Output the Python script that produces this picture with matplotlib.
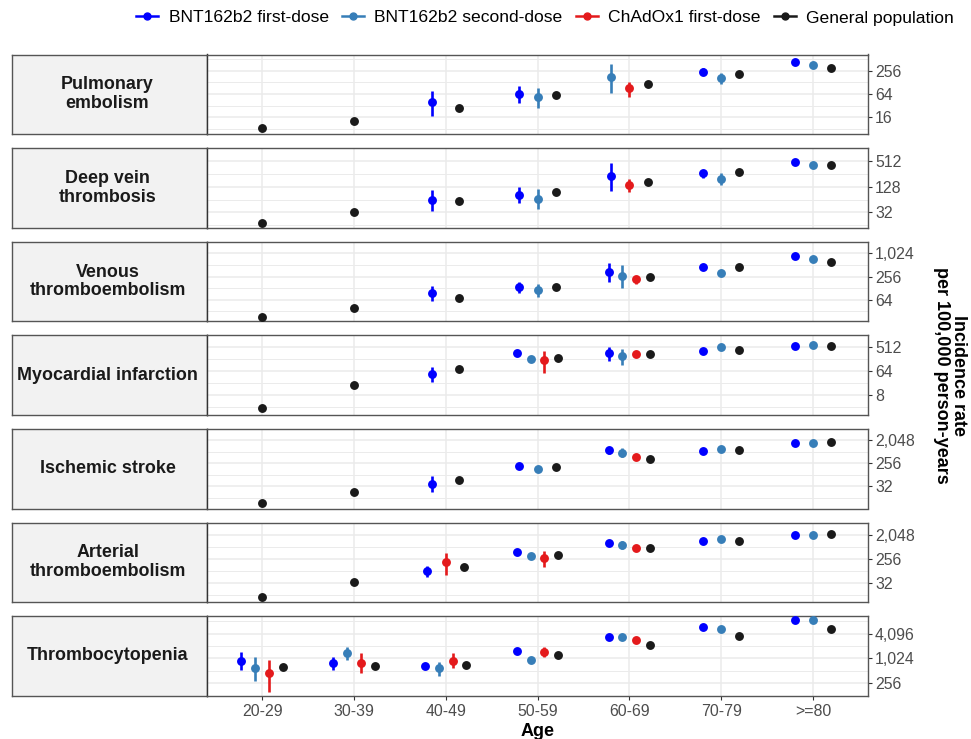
import numpy as np
import matplotlib.pyplot as plt
from matplotlib.lines import Line2D
from matplotlib.ticker import NullFormatter

plt.rcParams['font.family'] = ['Liberation Sans', 'DejaVu Sans']

ages = ["20-29", "30-39", "40-49", "50-59", "60-69", "70-79", ">=80"]
groups = ["BNT162b2 first-dose", "BNT162b2 second-dose", "ChAdOx1 first-dose", "General population"]
colors = ["#0000FF", "#377EB8", "#E41A1C", "#1A1A1A"]
outcomes = ["Pulmonary\nembolism", "Deep vein\nthrombosis", "Venous\nthromboembolism",
            "Myocardial infarction", "Ischemic stroke", "Arterial\nthromboembolism",
            "Thrombocytopenia"]
N = None

# incidence per 100,000 person-years, (lower, upper) CI where a bar is visible
# Pulmonary embolism
pe_b1 = [N, N, 39, 64, N, 241, 437]
pe_b1_ci = [N, N, (17, 75), (37, 105), N, (198, 294), N]
pe_b2 = [N, N, N, 54, 182, 165, 366]
pe_b2_ci = [N, N, N, (28, 91), (68, 388), (118, 231), N]
pe_ch = [N, N, N, N, 91, N, N]
pe_ch_ci = [N, N, N, N, (55, 135), N, N]
pe_gp = [8.5, 13.3, 28, 59, 120, 218, 301]

# Deep vein thrombosis
dvt_b1 = [N, N, 63, 83, 224, 265, 488]
dvt_b1_ci = [N, N, (35, 107), (52, 126), (101, 448), (200, 323), N]
dvt_b2 = [N, N, N, 67, N, 197, 414]
dvt_b2_ci = [N, N, N, (38, 110), N, (143, 265), N]
dvt_ch = [N, N, N, N, 137, N, N]
dvt_ch_ci = [N, N, N, N, (98, 190), N, N]
dvt_gp = [18, 32, 58, 98, 166, 287, 420]

# Venous thromboembolism
vte_b1 = [N, N, 94, 135, 337, 461, 861]
vte_b1_ci = [N, N, (59, 142), (98, 185), (181, 582), N, N]
vte_b2 = [N, N, N, 113, 272, 324, 719]
vte_b2_ci = [N, N, N, (76, 167), (128, 505), N, N]
vte_ch = [N, N, N, N, 217, N, N]
vte_ch_ci = [N, N, N, N, (167, 272), N, N]
vte_gp = [23, 39, 73, 135, 249, 440, 626]

# Myocardial infarction
mi_b1 = [N, N, 48, 296, 296, 370, 556]
mi_b1_ci = [N, N, (24, 88), N, (158, 512), N, N]
mi_b2 = [N, N, N, 182, 238, 512, 617]
mi_b2_ci = [N, N, N, N, (109, 446), N, N]
mi_ch = [N, N, N, 163, 274, N, N]
mi_ch_ci = [N, N, N, (55, 357), N, N, N]
mi_gp = [2.5, 18, 76, 197, 280, 388, 584]

# Ischemic stroke
is_b1 = [N, N, 41, 198, 853, 813, 1663]
is_b1_ci = [N, N, (20, 80), N, (620, 1120), N, N]
is_b2 = [N, N, N, 160, 671, 975, 1640]
is_b2_ci = [N, N, N, N, (452, 1003), N, N]
is_ch = [N, N, N, N, 440, N, N]
is_ch_ci = [N, N, N, N, N, N, N]
is_gp = [6.8, 18.6, 57, 183, 396, 879, 1806]

# Arterial thromboembolism
ate_b1 = [N, N, 90, 474, 975, 1144, 2048]
ate_b1_ci = [N, N, (56, 138), N, N, N, N]
ate_b2 = [N, N, N, 322, 838, 1392, 2048]
ate_b2_ci = [N, N, N, N, (600, 1150), N, N]
ate_ch = [N, N, 194, 285, 680, N, N]
ate_ch_ci = [N, N, (64, 440), (132, 527), N, N, N]
ate_gp = [9.6, 36.5, 132, 367, 630, 1168, 2160]

# Thrombocytopenia
tcp_b1 = [897, 787, 657, 1510, 3396, 5910, 8540]
tcp_b1_ci = [(545, 1428), (545, 1083), N, N, N, N, N]
tcp_b2 = [596, 1370, 588, 949, 3396, 5290, 8540]
tcp_b2_ci = [(296, 1083), (929, 1992), (391, 820), N, N, N, N]
tcp_ch = [446, 787, 897, 1478, 2936, N, N]
tcp_ch_ci = [(155, 929), (446, 1351), (588, 1351), (1083, 1951), N, N, N]
tcp_gp = [621, 680, 704, 1226, 2226, 3665, 5290]

none_ci = [N] * 7
panels = [
    [(pe_b1, pe_b1_ci), (pe_b2, pe_b2_ci), (pe_ch, pe_ch_ci), (pe_gp, none_ci)],
    [(dvt_b1, dvt_b1_ci), (dvt_b2, dvt_b2_ci), (dvt_ch, dvt_ch_ci), (dvt_gp, none_ci)],
    [(vte_b1, vte_b1_ci), (vte_b2, vte_b2_ci), (vte_ch, vte_ch_ci), (vte_gp, none_ci)],
    [(mi_b1, mi_b1_ci), (mi_b2, mi_b2_ci), (mi_ch, mi_ch_ci), (mi_gp, none_ci)],
    [(is_b1, is_b1_ci), (is_b2, is_b2_ci), (is_ch, is_ch_ci), (is_gp, none_ci)],
    [(ate_b1, ate_b1_ci), (ate_b2, ate_b2_ci), (ate_ch, ate_ch_ci), (ate_gp, none_ci)],
    [(tcp_b1, tcp_b1_ci), (tcp_b2, tcp_b2_ci), (tcp_ch, tcp_ch_ci), (tcp_gp, none_ci)],
]

# y axis layout per panel (log2 limits and breaks)
y_lims = [(2.57, 9.40), (3.81, 9.48), (4.15, 10.25), (0.45, 9.89),
          (2.11, 11.28), (2.67, 11.49), (7.06, 13.41)]
y_breaks = [[16, 64, 256], [32, 128, 512], [64, 256, 1024], [8, 64, 512],
            [32, 256, 2048], [32, 256, 2048], [256, 1024, 4096]]

W, H = 971, 739
fig = plt.figure(figsize=(W / 100, H / 100), dpi=100)
edge = "#555555"
fs = 11.4

for r in range(7):
    top = 54.5 + r * 93.6
    h = 79.6
    bottom = top + h

    sax = fig.add_axes([12 / W, 1 - bottom / H, (207 - 12) / W, h / H])
    sax.set_facecolor("#F2F2F2")
    sax.set_xticks([])
    sax.set_yticks([])
    for s in sax.spines.values():
        s.set_color(edge)
        s.set_linewidth(1.0)
    sax.text(0.49, 0.5, outcomes[r], ha="center", va="center", fontsize=12.9,
             fontweight="bold", color="#1A1A1A", transform=sax.transAxes, linespacing=1.15)

    ax = fig.add_axes([207 / W, 1 - bottom / H, (868 - 207) / W, h / H])
    ax.set_yscale("log", base=2)
    lo, hi = y_lims[r]
    ax.set_ylim(2 ** lo, 2 ** hi)
    ax.set_xlim(0.4, 7.6)

    majors = y_breaks[r]
    step = np.log2(majors[1]) - np.log2(majors[0])
    lmaj = np.log2(majors)
    minors = [2 ** (v + step / 2) for v in np.concatenate([[lmaj[0] - step], lmaj])]
    ax.set_yticks(majors)
    ax.set_yticklabels([f"{int(v):,}" for v in majors])
    ax.set_yticks(minors, minor=True)
    ax.yaxis.set_minor_formatter(NullFormatter())
    ax.yaxis.tick_right()
    ax.tick_params(axis="y", which="major", length=3, width=0.8, color="#333333",
                   labelsize=fs, labelcolor="#4D4D4D", pad=2)
    ax.tick_params(axis="y", which="minor", length=0)
    ax.set_xticks(range(1, 8))
    if r == 6:
        ax.set_xticklabels(ages)
        ax.tick_params(axis="x", length=3, width=0.8, color="#333333", labelsize=fs,
                       labelcolor="#4D4D4D", pad=3)
    else:
        ax.tick_params(axis="x", length=0, labelbottom=False)

    ax.grid(which="major", axis="both", color="#EBEBEB", lw=1.1)
    ax.grid(which="minor", axis="y", color="#EBEBEB", lw=0.7)
    ax.set_axisbelow(True)
    for s in ax.spines.values():
        s.set_color(edge)
        s.set_linewidth(1.0)
    ax.spines["left"].set_color("#333333")

    data = panels[r]
    for j in range(7):
        present = [g for g in range(4) if data[g][0][j] is not None]
        n = len(present)
        for k, g in enumerate(present):
            x = j + 1 + (k - (n - 1) / 2) * 0.6 / n
            v = data[g][0][j]
            ci = data[g][1][j]
            if ci is not None:
                ax.vlines(x, ci[0], ci[1], color=colors[g], lw=1.9, zorder=3)
            ax.plot(x, v, "o", ms=6.4, color=colors[g], mec="none", zorder=4)

fig.text(538 / W, 1 - 731 / H, "Age", ha="center", va="center", fontsize=13,
         fontweight="bold")
fig.text(950 / W, 1 - 375 / H, "Incidence rate\nper 100,000 person-years", ha="center",
         va="center", rotation=270, fontsize=13, fontweight="bold", linespacing=1.05)

handles = [Line2D([0], [0], color=c, marker="o", ms=5, lw=1.8) for c in colors]
fig.legend(handles, groups, loc="upper right", bbox_to_anchor=(966 / W, 1 + 2 / H),
           ncol=4, frameon=False, fontsize=12.6, handlelength=1.25,
           handletextpad=0.6, columnspacing=0.75, borderpad=0.2)

fig.savefig("out.png", dpi=100)
